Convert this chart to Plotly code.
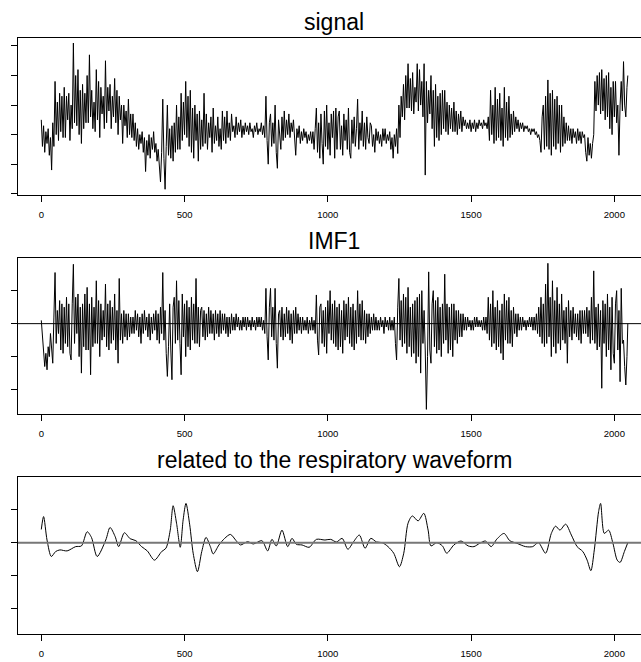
import plotly.graph_objects as go

# ---------------- data ----------------
sample_step = 4
n_last = 2047

signal = [
    25, 16, 23, 14, 21, 17, 22, 13, 19, 8, 24, 16, 38, 20, 31, 18, 34, 21, 33, 19,
    36, 19, 33, 25, 34, 18, 30, 22, 51, 24, 40, 23, 42, 20, 35, 17, 37, 22, 34, 24,
    40, 24, 47, 26, 35, 22, 31, 21, 42, 25, 38, 19, 36, 27, 33, 22, 45, 24, 36, 28,
    37, 22, 33, 26, 39, 24, 35, 20, 33, 25, 30, 17, 30, 23, 28, 19, 32, 20, 27, 19,
    27, 18, 24, 16, 22, 15, 20, 17, 21, 14, 19, 7.5, 18, 13, 20, 12, 19, 15, 21, 14,
    17, 11, 15, 8, 4, 14, 32, 12, 1.5, 16, 30, 13, 22, 12, 23, 11, 24, 14, 30, 15,
    26, 15, 34, 18, 31, 20, 38, 19, 33, 16, 35, 14, 29, 12, 30, 18, 27, 11, 28, 15,
    25, 16, 34, 17, 27, 15, 24, 19, 26, 14, 29, 17, 23, 18, 26, 16, 22, 15, 28, 18,
    26, 17, 28, 19, 24, 18, 27, 21, 23, 19, 26, 20, 24, 21, 25, 19, 23, 20, 24, 21,
    23, 20, 24, 21, 22, 19, 23, 21, 24, 20, 22, 21, 24, 20, 23, 19, 33, 18, 10, 24,
    27, 16, 24, 17, 30, 14, 8.6, 25, 21, 15, 26, 18, 28, 19, 25, 20, 27, 19, 24, 21,
    25, 18, 13, 22, 19, 23, 17, 21, 18, 22, 19, 21, 17, 20, 18, 21, 17, 21, 15, 22,
    29, 14, 24, 12, 27, 17, 10, 28, 16, 30, 15, 24, 13, 27, 19, 28, 12, 29, 15, 26,
    28, 15, 23, 13, 27, 18, 25, 15, 29, 14, 12, 25, 17, 26, 16, 22, 32, 15, 24, 18,
    28, 16, 24, 15, 26, 19, 17, 24, 23, 16, 20, 14, 22, 18, 21, 17, 20, 16, 22, 18,
    22, 17, 20, 18, 21, 15, 19, 12, 20, 16, 22, 13.6, 30, 19, 33, 26, 37, 25, 40, 29,
    44, 29, 39, 28, 41, 27, 36, 31, 44, 28, 42, 30, 38, 26, 44, 6.3, 38, 24, 35, 27,
    40, 22, 35, 16, 37, 19, 33, 18, 34, 20, 35, 22, 35, 21, 31, 20, 30, 22, 29, 21,
    31, 21, 28, 20, 27, 22, 28, 21, 26, 23, 25, 22, 24, 22, 25, 21, 24, 22, 25, 21,
    24, 22, 25, 23, 24, 22, 25, 23, 24, 22, 26, 18, 35, 20, 30, 17, 36, 18, 32, 19,
    34, 18, 29, 16, 36, 19, 31, 18, 33, 19, 27, 20, 28, 21, 26, 22, 25, 21, 24, 22,
    24, 21, 23, 22, 23, 21, 22, 20, 22, 21, 22, 20, 21, 19, 20, 18, 14, 26, 30, 15,
    33, 16, 38.5, 15, 34, 13, 35, 16, 32, 15, 33, 17, 30, 14, 30, 16, 26, 17, 24, 18,
    23, 18, 22, 17, 22, 19, 21, 17, 22, 18, 21, 17, 21, 19, 20, 14, 11, 19, 13, 17,
    12, 17, 20, 38, 28, 40, 30, 41, 27, 42, 28, 39, 25, 40, 26, 41, 22, 36, 20, 38,
    26, 38, 24, 30, 13, 30, 38, 28, 44.7, 30, 26, 36, 40,
]

imf1 = [
    1, -4, -8, -13, -9, -14, -7, -10, -3, -8, -12, 2, 15.5, -6, 4, -3, 7, -8, 6, -9,
    5, -6, 8, -7, 6, -9, -11, 6, 18, -6, 8, -3, 9, -10, 5, -15, 6, -7, 9, -8,
    11, -8, 6, -15.5, 8, -7, 5, -6, 13, -6, 7, -10, 6, -5, 4, -4, 12, -7, 6, -8,
    7, -6, 5, -5, 9, -8, 4, -12, 13.7, -5, 3, -6, 4, -4, 3, -5, 3, -4, 2, -3,
    2, -3, 4, -2, 3, -4, 2, -6, 3, -3, 4, -2, 2, -4, 3, -5, 2, -3, 3, -2,
    4, -5, 3, -6, 5, -3, 15.5, -5, 4, -9, -16, -7, 6, -8, -17, 5, 8, -6, 13, -5,
    7, -6, -15.5, 9, -4, 6, -10, 7, -7, 5, -8, 8, -5, 6, -6, 13.7, -6, 5, -7, 4,
    5, -4, 4, -5, 3, -4, 5, -3, 4, -3, 3, -5, 4, -3, 3, -4, 4, -3, 3, -2,
    3, -3, 2, -4, 2, -3, 3, -2, 2, -2, 3, -1, 2, -2, 1, -2, 2, -1, 2, -2,
    2, -1, 1, -2, 2, -1, 1, -2, 2, -1, 2, -1, 2, -2, 1, -3, 10.7, -4, -11, 5,
    10.7, -4, 5, -5, 10.7, -6, -13.5, 3, 4, -4, 5, -5, 3, -4, 5, -3, 4, -5, 3, -6,
    4, -3, 5, -3, 3, -2, 2, -3, 2, -2, 1, -2, 2, -3, 1, -2, 2, -2, 1, -3,
    8.7, -5, -9.5, 5, 6, -6, 4, -7, 5, -9, 7, -3, 10, -5, 6, -6, 7, -7, 5, -8,
    6, -7, 4, -9, 7, -5, 6, -4, 8, -6, 5, -7, 6, -8, 4, -6, 10, -4, 6, -5,
    7, -5, 4, -6, 3, -4, 3, -3, 2, -2, 3, -2, 2, -2, 1, -2, 2, -1, 1, -3,
    2, -1, 1, -2, 2, -2, 1, -2, 2, -6, -11, 5, 13.7, -5, 7, -7, 9, -6, 8, -9,
    11, -7, 5, -10, 6, -9, 7, -12, 8, -10, 9, -15, 10, -6, 4, -8, -26, -10, 15.7, -8,
    -12, 6, 10, -7, 7, -9, 8, -8, 5, -10, 6, -6, 15, -5, 6, -9, 5, -8, 6, -10,
    6, -5, 4, -6, 4, -4, 3, -4, 3, -2, 2, -2, 2, -1, 1, -2, 1, -2, 2, -1,
    2, -1, 1, -1, 1, -2, 2, -2, 2, -3, 8, -5, 6, -7, 10, -6, 5, -8, 7, -7,
    4, -9, 6, -11, 9, -5, 7, -6, 8, -6, 4, -7, 5, -3, 3, -4, 3, -2, 2, -2,
    2, -1, 1, -2, 1, -1, 2, -1, 2, -2, 2, -2, 3, -3, 5, -4, 8, -6, 6, -7,
    12, -6, 18.3, -4, 8, -10, 13, -7, 7, -9, 11, -6, 6, -8, 9, -5, 4, -6, 5, -12,
    7, -4, 4, -5, 5, -3, 3, -4, 3, -5, 4, -6, 4, -3, 4, -3, 5, -4, 4, -6,
    8, -5, 16, -6, 5, -8, 6, -7, 4, -19.6, 7, -6, 6, -10, 9, -8, 5, -14, 8, -9,
    -12, 6, 10, -8, 4, -17.6, 10.7, -6, -5, -13, -18.6, -10, 0,
]

resp_x = [0, 8, 20, 35, 50, 65, 90, 120, 140, 160, 175, 195, 225, 240, 258, 270,
          290, 310, 330, 350, 370, 395, 420, 435, 450, 460, 472, 485, 495, 505,
          518, 530, 545, 560, 575, 590, 600, 620, 640, 660, 680, 695, 720, 740,
          770, 790, 805, 820, 840, 860, 875, 890, 910, 935, 960, 990, 1010, 1030,
          1050, 1070, 1090, 1110, 1130, 1150, 1170, 1190, 1210, 1230, 1250, 1265,
          1280, 1295, 1315, 1335, 1350, 1360, 1380, 1400, 1415, 1440, 1465, 1490,
          1510, 1530, 1550, 1570, 1590, 1615, 1635, 1660, 1690, 1715, 1735, 1760,
          1780, 1795, 1810, 1830, 1850, 1870, 1890, 1905, 1918, 1930, 1945, 1952,
          1965, 1980, 1995, 2010, 2020, 2035, 2047]
resp = [4.0, 7.9, 0.8, -4.2, -2.7, -2.2, -2.5, -1.2, -1.0, 3.3, 1.6, -4.2, 0.8, 4.6,
        1.8, -1.2, 3.0, 1.2, 0.6, -1.2, -2.5, -5.3, -2.7, -1.7, 3.8, 11.2, 5.9,
        -1.4, 6.9, 11.9, 5.4, -3.2, -8.8, -2.7, 1.6, -1.2, -3.4, -0.7, 1.3, 2.5,
        0.6, -0.7, 0.3, -0.4, 0.6, -2.5, 1.0, -1.0, 3.8, -1.2, 1.3, -0.5, -0.7,
        -1.4, 1.0, 0.8, 1.0, 0.2, 1.3, -2.0, 0.3, 2.3, -1.7, 1.3, 0.2, 0.0, -1.2,
        -3.2, -7.3, -3.2, 5.9, 8.1, 6.6, 8.9, 3.8, -1.0, 0.0, -1.0, -3.2, -0.7,
        0.5, -1.0, -1.2, -0.2, 0.5, -1.2, 1.1, 2.8, 0.6, -0.2, -1.2, -1.2, 0.0,
        -3.2, 2.8, 5.0, 3.8, 5.6, 2.3, -1.2, -2.7, -5.3, -8.5, -2.2, 9.4, 11.9,
        2.8, 3.8, -0.2, -5.3, -6.0, -2.7, 0.0]

titles = ["signal", "IMF1", "related to the respiratory waveform"]
x_ticks = [0, 500, 1000, 1500, 2000]
sig_ticks = [0, 10, 20, 30, 40, 50]
imf_ticks = [-20, -10, 0, 10]

x_noisy = list(range(0, n_last, sample_step)) + [n_last]

# ---------------- figure ----------------
W, H = 641, 662
FONT = "Liberation Sans, Arial, Helvetica, sans-serif"

fig = go.Figure()
line = dict(color="black", width=1)
fig.add_trace(go.Scatter(x=x_noisy, y=signal, mode="lines", line=line, xaxis="x", yaxis="y"))
fig.add_trace(go.Scatter(x=x_noisy, y=imf1, mode="lines", line=line, xaxis="x2", yaxis="y2"))
fig.add_trace(go.Scatter(x=resp_x, y=resp, mode="lines",
                         line=dict(color="black", width=1, shape="spline", smoothing=0.8),
                         xaxis="x3", yaxis="y3"))


def dom(top_px, bot_px):
    return [1 - bot_px / H, 1 - top_px / H]


xdom = [18 / W, 1.0]
xrange = [-81.3, 2093]

xax = dict(domain=xdom, range=xrange, tickvals=x_ticks, ticks="outside", ticklen=6,
           tickcolor="black", showline=True, mirror=True, linecolor="black", linewidth=1,
           showgrid=False, zeroline=False, tickfont=dict(size=9.5, color="black", family=FONT),
           ticklabelstandoff=5)
yax = dict(ticks="outside", ticklen=6, tickcolor="black", showline=True, mirror=False,
           linecolor="black", linewidth=1, showgrid=False, zeroline=False, showticklabels=False)

fig.update_layout(
    width=W, height=H, margin=dict(l=0, r=0, t=0, b=0),
    paper_bgcolor="white", plot_bgcolor="white", showlegend=False,
    font=dict(family=FONT, color="black"),
    xaxis=dict(xax, anchor="y"),
    xaxis2=dict(xax, anchor="y2"),
    xaxis3=dict(xax, anchor="y3"),
    yaxis=dict(yax, domain=dom(38, 195), range=[-0.44, 52.7], tickvals=sig_ticks, anchor="x"),
    yaxis2=dict(yax, domain=dom(257.7, 414), range=[-27.4, 20.0], tickvals=imf_ticks, anchor="x2"),
    yaxis3=dict(yax, domain=dom(476.7, 634), range=[-27.7, 20.0], tickvals=imf_ticks, anchor="x3"),
)

fig.add_shape(type="line", xref="x2 domain", yref="y2", x0=0, x1=1, y0=0, y1=0,
              line=dict(color="black", width=1))
fig.add_shape(type="line", xref="x3 domain", yref="y3", x0=0, x1=1, y0=0, y1=0,
              line=dict(color="#777777", width=2))

title_y_px = [22, 241, 460]
for t, ypx in zip(titles, title_y_px):
    fig.add_annotation(text=t, xref="paper", yref="paper", x=334 / W, y=1 - ypx / H,
                       xanchor="center", yanchor="middle", showarrow=False,
                       font=dict(size=23, color="black", family=FONT))

fig.write_html("out.html", config={"displayModeBar": False},
               post_script="document.body.style.margin='0px';"
                           "document.body.style.overflow='hidden';")
